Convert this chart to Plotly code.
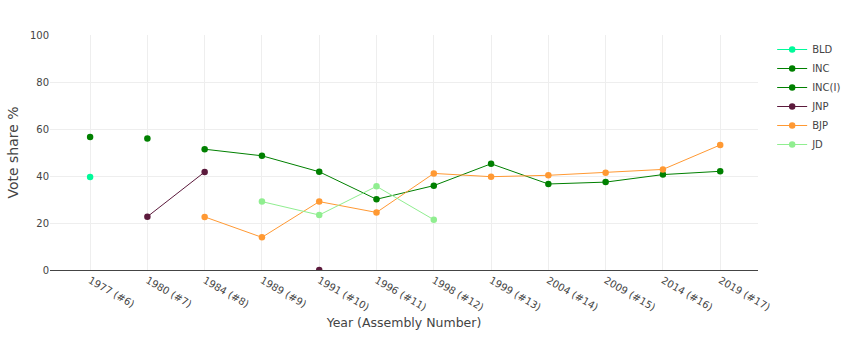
import plotly.graph_objects as go

years = ["1977 (#6)", "1980 (#7)", "1984 (#8)", "1989 (#9)", "1991 (#10)", "1996 (#11)",
         "1998 (#12)", "1999 (#13)", "2004 (#14)", "2009 (#15)", "2014 (#16)", "2019 (#17)"]

bld = [39.6, None, None, None, None, None, None, None, None, None, None, None]
inc = [56.6, None, 51.4, 48.6, 41.8, 30.1, 35.9, 45.2, 36.6, 37.4, 40.6, 42.0]
inc_i = [None, 56.0, None, None, None, None, None, None, None, None, None, None]
jnp = [None, 22.7, 41.7, None, 0.0, None, None, None, None, None, None, None]
bjp = [None, None, 22.6, 13.9, 29.1, 24.5, 41.1, 39.7, 40.3, 41.4, 42.8, 53.2]
jd = [None, None, None, 29.1, 23.4, 35.6, 21.4, None, None, None, None, None]

series = [
    ("BLD", bld, "#00FA9A"),
    ("INC", inc, "#008000"),
    ("INC(I)", inc_i, "#008000"),
    ("JNP", jnp, "#5C1A3C"),
    ("BJP", bjp, "#FF9933"),
    ("JD", jd, "#90EE90"),
]

FONT = "Tahoma, Verdana, DejaVu Sans, sans-serif"

fig = go.Figure()
for name, vals, color in series:
    fig.add_trace(go.Scatter(
        x=years, y=vals, name=name, mode="lines+markers",
        line=dict(color=color, width=1),
        marker=dict(color=color, size=6.5),
        connectgaps=False,
    ))

fig.update_layout(
    width=850, height=345,
    margin=dict(l=50, r=92, t=35, b=75, autoexpand=False),
    plot_bgcolor="white", paper_bgcolor="white",
    font=dict(family=FONT, color="#444", size=10),
    legend=dict(x=1.02, y=1.0, yanchor="top", font=dict(size=10)),
)
fig.update_xaxes(
    type="category", tickangle=30, range=[-0.7, 11.66], automargin=True,
    showgrid=True, gridcolor="#eeeeee",
    showline=True, linecolor="#444", linewidth=1,
    tickfont=dict(size=10),
    title=dict(text="Year (Assembly Number)", font=dict(size=12.5), standoff=6),
)
fig.update_yaxes(
    range=[0, 100], dtick=20, showgrid=True, gridcolor="#eeeeee",
    zeroline=False, automargin=True,
    tickfont=dict(size=10),
    title=dict(text="Vote share %", font=dict(size=14), standoff=8),
)

fig.write_html("out.html")
